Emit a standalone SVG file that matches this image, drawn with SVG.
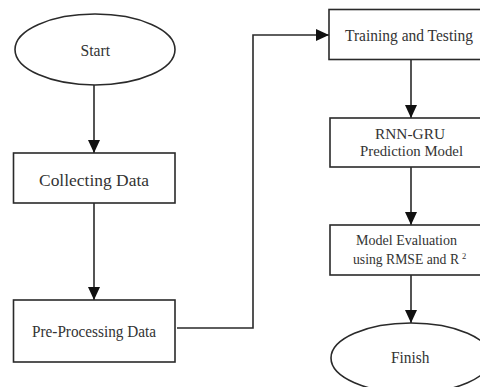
<svg xmlns="http://www.w3.org/2000/svg" width="480" height="387" viewBox="0 0 480 387">
  <defs>
    <marker id="arrow" markerUnits="userSpaceOnUse" markerWidth="13" markerHeight="13" viewBox="0 0 13 12" refX="13" refY="6" orient="auto">
      <path d="M0,0 L13,6 L0,12 Z" fill="#111"/>
    </marker>
    <style>
      .shape { fill: #fff; stroke: #2a2a2a; stroke-width: 1.6; }
      .edge { fill: none; stroke: #2a2a2a; stroke-width: 1.6; marker-end: url(#arrow); }
      .label { font-family: 'Liberation Serif', 'Times New Roman', Times, serif; fill: #333; font-size: 16.5px; }
      .two-line { font-size: 15px; }
      .sup { font-size: 8.5px; }
    </style>
  </defs>
  <rect width="480" height="387" fill="#fff"/>

  <g id="connectors">
    <line class="edge" x1="94" y1="85" x2="94" y2="153"/>
    <line class="edge" x1="94" y1="203" x2="94" y2="300"/>
    <polyline class="edge" points="177,328 253,328 253,35 329,35"/>
    <line class="edge" x1="411" y1="59" x2="411" y2="118"/>
    <line class="edge" x1="411" y1="167" x2="411" y2="225"/>
    <line class="edge" x1="411" y1="275" x2="411" y2="323"/>
  </g>

  <g id="start">
    <ellipse class="shape" cx="95" cy="49.5" rx="80" ry="35.5"/>
    <text class="label" x="80.5" y="56" textLength="29.5" lengthAdjust="spacingAndGlyphs">Start</text>
  </g>

  <g id="collecting-data">
    <rect class="shape" x="13.5" y="153" width="161.5" height="50"/>
    <text class="label" x="39" y="185.5" font-size="18.5" textLength="110" lengthAdjust="spacingAndGlyphs">Collecting Data</text>
  </g>

  <g id="pre-processing">
    <rect class="shape" x="13.5" y="300" width="161.5" height="62"/>
    <text class="label" x="32" y="336.5" textLength="124" lengthAdjust="spacingAndGlyphs">Pre-Processing Data</text>
  </g>

  <g id="training-testing">
    <rect class="shape" x="329" y="9.5" width="165" height="50"/>
    <text class="label" x="345" y="41" textLength="128" lengthAdjust="spacingAndGlyphs">Training and Testing</text>
  </g>

  <g id="rnn-gru">
    <rect class="shape" x="330" y="118" width="163" height="49"/>
    <text class="label two-line" x="375" y="139" textLength="70" lengthAdjust="spacingAndGlyphs">RNN-GRU</text>
    <text class="label two-line" x="360" y="156" textLength="103" lengthAdjust="spacingAndGlyphs">Prediction Model</text>
  </g>

  <g id="model-evaluation">
    <rect class="shape" x="330" y="225" width="163" height="50"/>
    <text class="label two-line" x="356" y="244.5" textLength="101" lengthAdjust="spacingAndGlyphs">Model Evaluation</text>
    <text class="label two-line" x="353" y="263.5" textLength="106" lengthAdjust="spacingAndGlyphs">using RMSE and R</text>
    <!-- squared exponent after the R -->
    <text class="label sup" x="462" y="258.5">2</text>
  </g>

  <g id="finish">
    <ellipse class="shape" cx="411" cy="358" rx="80" ry="35"/>
    <text class="label" x="391" y="363" textLength="38.5" lengthAdjust="spacingAndGlyphs">Finish</text>
  </g>
</svg>
